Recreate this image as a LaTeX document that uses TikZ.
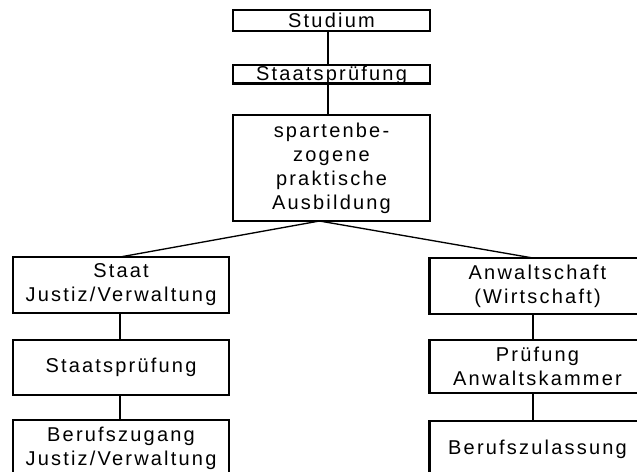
\documentclass[tikz,border=0pt]{standalone}
\usepackage{fontspec}
\newfontfamily\boxfont[LetterSpace=11]{Liberation Sans}
\usetikzlibrary{positioning}

\tikzset{
  stufe/.style={draw,line width=1.6pt,inner sep=0pt,outer sep=0pt,align=center,
    font=\boxfont\fontsize{15}{18}\selectfont},
  weg/.style={line width=1pt}
}

\begin{document}
\begin{tikzpicture}[x=0.75pt,y=-0.75pt]
\useasboundingbox (0,0) rectangle (637,472);
\clip (0,0) rectangle (637,472);
% Stamm
\node[stufe,minimum width=147.75pt,minimum height=15.75pt] (studium) at (331.5,20.5) {Studium};
\node[stufe,minimum width=147.75pt,minimum height=14pt,text height=11.8pt,text depth=2.2pt] (pruef) at (331.5,74.5) {Staatsprüfung};
\node[stufe,minimum width=147.75pt,minimum height=79.5pt] (ausb) at (331.5,168)
  {spartenbe-\\zogene\\praktische\\Ausbildung};
% linker Zweig
\node[stufe,minimum width=162pt,minimum height=42pt] (staat) at (121,285) {Staat\\Justiz/Verwaltung};
\node[stufe,minimum width=162pt,minimum height=41.25pt] (spstaat) at (121,367.5) {Staatsprüfung};
\node[stufe,minimum width=162pt,minimum height=42pt] (zugang) at (121,448) {Berufszugang\\Justiz/Verwaltung};
% rechter Zweig
\node[stufe,minimum width=162pt,minimum height=42pt] (anwalt) at (537.5,286) {Anwaltschaft\\(Wirtschaft)};
\node[stufe,minimum width=162pt,minimum height=39.75pt] (kammer) at (537.5,366.5) {Prüfung\\Anwaltskammer};
\node[stufe,minimum width=162pt,minimum height=42pt] (zulass) at (537.5,449) {Berufszulassung};
% schwere Kanten rechts und unten
\foreach \n in {studium,pruef,ausb,staat,spstaat,zugang,anwalt,kammer,zulass}
  \draw[line width=2.2pt] (\n.north east) -- (\n.south east) -- (\n.south west);
% Verbindungen
\draw[weg] ([xshift=-2.6pt]studium.south) -- ([xshift=-2.6pt]pruef.north);
\draw[weg] ([xshift=-2.6pt]pruef.south) -- ([xshift=-2.6pt]ausb.north);
\draw[weg] ([xshift=-9pt]ausb.south) -- ([xshift=-0.75pt]staat.north);
\draw[weg] ([xshift=-9pt]ausb.south) -- ([xshift=-3.4pt]anwalt.north);
\draw[weg] ([xshift=-0.75pt]staat.south) -- ([xshift=-0.75pt]spstaat.north);
\draw[weg] ([xshift=-0.75pt]spstaat.south) -- ([xshift=-0.75pt]zugang.north);
\draw[weg] ([xshift=-3.4pt]anwalt.south) -- ([xshift=-3.4pt]kammer.north);
\draw[weg] ([xshift=-3.4pt]kammer.south) -- ([xshift=-3.4pt]zulass.north);
\end{tikzpicture}
\end{document}
